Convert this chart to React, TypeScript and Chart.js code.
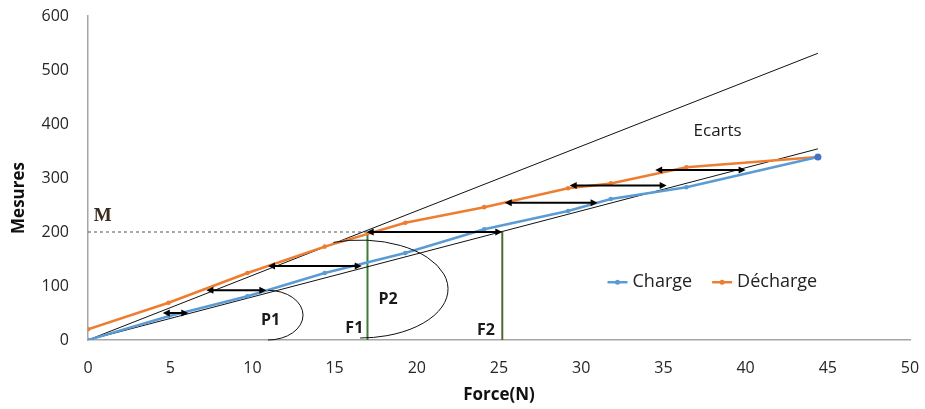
import React, { useEffect, useRef } from "react";
import { Chart, registerables } from "chart.js";

Chart.register(...registerables);

// ---- data ----
const force = [0, 4.9, 9.7, 14.4, 19.3, 24.1, 29.2, 31.8, 36.4, 44.4];
const charge = [0, 44, 81, 124, 161, 205, 239, 261, 283, 339];
const decharge = [20, 69, 124, 173, 217, 246, 281, 290, 320, 339];

const steepX = [0, 44.4];
const steepY = [0, 531];
const shallowX = [0, 44.4];
const shallowY = [0, 354];

const ecartLevel = [50, 92, 137, 200, 254, 286, 315];
const ecartStart = [4.55, 7.2, 10.95, 16.95, 25.35, 29.3, 34.5];
const ecartEnd = [6.1, 10.85, 16.65, 25.2, 31.0, 35.2, 40.0];

const mValue = 200;
const f1 = 17;
const f2 = 25.2;

const xMin = 0;
const xMax = 50;
const xStep = 5;
const yMin = 0;
const yMax = 600;
const yStep = 100;

const arcCenterX = [10.95, 16.55];
const arcCenterY = [46, 94.4];
const arcRadiusX = [2.13, 5.35];
const arcRadiusY = [46, 90.7];
const arcStart = [-Math.PI / 2, -Math.PI / 2 - 0.31];
const arcEnd = [Math.PI / 2, Math.PI / 2];

const noteText = ["P1", "P2", "F1", "F2", "Ecarts"];
const noteX = [11.1, 18.25, 16.2, 24.2, 38.3];
const noteY = [37, 76, 22, 17, 387];
const mLabelX = 0.9;
const mLabelY = 230;

const legendAnchorX = 31.6;
const legendAnchorY = 107;

const FONT = "'Open Sans', 'Noto Sans', sans-serif";
const BLUE = "#5B9BD5";
const ORANGE = "#ED7D31";

const annotations = {
  id: "annotations",
  afterDatasetsDraw(chart: any) {
    const { ctx, scales } = chart;
    const xs = scales.x;
    const ys = scales.y;
    ctx.save();

    // ellipse arcs
    ctx.strokeStyle = "#111";
    ctx.lineWidth = 1;
    for (let i = 0; i < arcCenterX.length; i++) {
      const cx = xs.getPixelForValue(arcCenterX[i]);
      const cy = ys.getPixelForValue(arcCenterY[i]);
      const rx = xs.getPixelForValue(arcCenterX[i] + arcRadiusX[i]) - cx;
      const ry = cy - ys.getPixelForValue(arcCenterY[i] + arcRadiusY[i]);
      ctx.beginPath();
      ctx.ellipse(cx, cy, rx, ry, 0, arcStart[i], arcEnd[i]);
      ctx.stroke();
    }

    // double arrows (ecarts)
    ctx.strokeStyle = "#000";
    ctx.fillStyle = "#000";
    ctx.lineWidth = 2;
    const head = 7;
    const hw = 3.5;
    for (let i = 0; i < ecartLevel.length; i++) {
      const x1 = xs.getPixelForValue(ecartStart[i]);
      const x2 = xs.getPixelForValue(ecartEnd[i]);
      const y = ys.getPixelForValue(ecartLevel[i]);
      ctx.beginPath();
      ctx.moveTo(x1 + head - 1, y);
      ctx.lineTo(x2 - head + 1, y);
      ctx.stroke();
      ctx.beginPath();
      ctx.moveTo(x1, y);
      ctx.lineTo(x1 + head, y - hw);
      ctx.lineTo(x1 + head, y + hw);
      ctx.closePath();
      ctx.fill();
      ctx.beginPath();
      ctx.moveTo(x2, y);
      ctx.lineTo(x2 - head, y - hw);
      ctx.lineTo(x2 - head, y + hw);
      ctx.closePath();
      ctx.fill();
    }

    // text notes
    ctx.textAlign = "center";
    ctx.textBaseline = "middle";
    for (let i = 0; i < noteText.length; i++) {
      const isEcart = noteText[i] === "Ecarts";
      ctx.font = (isEcart ? "17px " : "bold 16px ") + FONT;
      ctx.fillStyle = "#1a1a1a";
      ctx.fillText(noteText[i], xs.getPixelForValue(noteX[i]), ys.getPixelForValue(noteY[i]));
    }
    ctx.font = "bold 19px 'Liberation Serif', 'DejaVu Serif', serif";
    ctx.fillStyle = "#3b2a1e";
    ctx.fillText("M", xs.getPixelForValue(mLabelX), ys.getPixelForValue(mLabelY));

    // legend
    const lx = xs.getPixelForValue(legendAnchorX);
    const ly = ys.getPixelForValue(legendAnchorY);
    ctx.font = "18px " + FONT;
    ctx.textAlign = "left";
    let cur = lx;
    for (let d = 0; d < 2; d++) {
      const ds = chart.data.datasets[d];
      ctx.strokeStyle = ds.borderColor;
      ctx.fillStyle = ds.borderColor;
      ctx.lineWidth = 2.5;
      ctx.beginPath();
      ctx.moveTo(cur, ly);
      ctx.lineTo(cur + 20, ly);
      ctx.stroke();
      ctx.beginPath();
      ctx.arc(cur + 10, ly, 2.5, 0, Math.PI * 2);
      ctx.fill();
      ctx.fillStyle = "#222";
      ctx.fillText(ds.label, cur + 25, ly);
      cur += 25 + ctx.measureText(ds.label).width + 20;
    }

    // y axis title
    ctx.save();
    ctx.translate(19, ys.getPixelForValue(263));
    ctx.rotate(-Math.PI / 2);
    ctx.textAlign = "center";
    ctx.textBaseline = "middle";
    ctx.font = "bold 17px " + FONT;
    ctx.fillStyle = "#111";
    ctx.fillText("Mesures", 0, 0);
    ctx.restore();

    ctx.restore();
  },
};

function pts(xv: number[], yv: number[]) {
  return xv.map((x, i) => ({ x, y: yv[i] }));
}

export default function App() {
  const ref = useRef<HTMLCanvasElement | null>(null);

  useEffect(() => {
    document.body.style.margin = "0";
    document.body.style.overflow = "hidden";
    if (!ref.current) return;
    const lastIdx = force.length - 1;
    const chart = new Chart(ref.current, {
      type: "scatter",
      data: {
        datasets: [
          {
            label: "Charge",
            data: pts(force, charge),
            showLine: true,
            borderColor: BLUE,
            backgroundColor: BLUE,
            borderWidth: 2.5,
            pointRadius: (c: any) => (c.dataIndex === lastIdx ? 3.5 : 2.3),
            pointBackgroundColor: (c: any) => (c.dataIndex === lastIdx ? "#4472C4" : BLUE),
            pointBorderWidth: 0,
          },
          {
            label: "Décharge",
            data: pts(force, decharge),
            showLine: true,
            borderColor: ORANGE,
            backgroundColor: ORANGE,
            borderWidth: 2.5,
            pointRadius: 2.3,
            pointBorderWidth: 0,
          },
          {
            label: "ref-steep",
            data: pts(steepX, steepY),
            showLine: true,
            borderColor: "#111",
            borderWidth: 1,
            pointRadius: 0,
          },
          {
            label: "ref-shallow",
            data: pts(shallowX, shallowY),
            showLine: true,
            borderColor: "#111",
            borderWidth: 1,
            pointRadius: 0,
          },
          {
            label: "F1",
            data: pts([f1, f1], [0, mValue]),
            showLine: true,
            borderColor: "#3C7D35",
            borderWidth: 2,
            pointRadius: 0,
          },
          {
            label: "F2",
            data: pts([f2, f2], [0, mValue]),
            showLine: true,
            borderColor: "#4F6B34",
            borderWidth: 2,
            pointRadius: 0,
          },
          {
            label: "M",
            data: pts([0, f1], [mValue, mValue]),
            showLine: true,
            borderColor: "#555",
            borderWidth: 1,
            borderDash: [3, 3],
            pointRadius: 0,
          },
        ],
      },
      options: {
        animation: false,
        responsive: false,
        devicePixelRatio: 1,
        events: [],
        layout: { padding: { top: 16, right: 15, left: 0, bottom: 0 } },
        plugins: {
          legend: { display: false },
          tooltip: { enabled: false },
          title: { display: false },
        },
        scales: {
          x: {
            type: "linear",
            min: xMin,
            max: xMax,
            afterFit: (s: any) => {
              s.height = 69;
              s.paddingLeft = 0;
              s.paddingRight = 0;
            },
            grid: { display: false, drawTicks: false },
            border: { display: true, color: "#a6a6a6", width: 1.5 },
            ticks: {
              stepSize: xStep,
              padding: 19,
              color: "#262626",
              font: { family: FONT, size: 16 },
            },
            title: {
              display: true,
              text: "Force(N)",
              color: "#111",
              font: { family: FONT, size: 17, weight: "bold" },
              padding: { top: 0, bottom: 4 },
            },
          },
          y: {
            type: "linear",
            min: yMin,
            max: yMax,
            afterFit: (s: any) => {
              s.width = 88;
              s.paddingTop = 0;
              s.paddingBottom = 0;
            },
            grid: { display: false, drawTicks: false },
            border: { display: true, color: "#a6a6a6", width: 1.5 },
            ticks: {
              stepSize: yStep,
              padding: 19,
              color: "#262626",
              font: { family: FONT, size: 16 },
            },
          },
        },
      },
      plugins: [annotations],
    } as any);
    return () => chart.destroy();
  }, []);

  return (
    <div style={{ width: 925, height: 409, position: "relative" }}>
      <canvas ref={ref} width={925} height={409} style={{ display: "block" }} />
    </div>
  );
}
